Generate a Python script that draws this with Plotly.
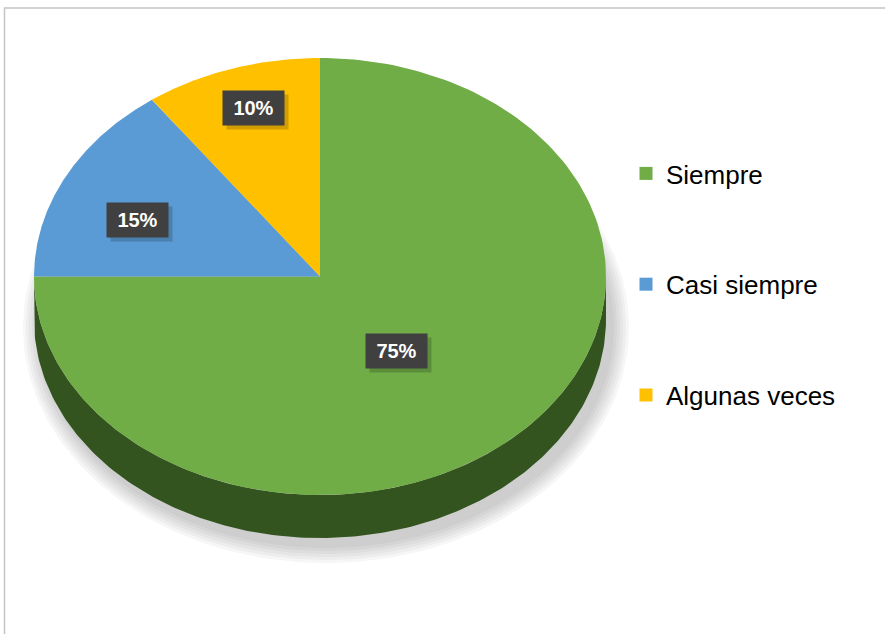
import numpy as np
import plotly.graph_objects as go

# ---- data ----
categories = ["Siempre", "Casi siempre", "Algunas veces"]
values = [75, 15, 10]
labels = ["75%", "15%", "10%"]
colors = ["#70AD47", "#5B9BD5", "#FFC000"]
side_colors = ["#33541F", "#2E5276", "#8A6800"]

W, H = 885, 634
cx, cy = 320.0, 276.5     # pie centre (pixels)
rx, ry = 286.0, 218.5     # ellipse radii (tilted pie)
depth = 43.0              # thickness of the 3D side


def pt(phi, dy=0.0):
    return cx + rx * np.sin(phi), cy - ry * np.cos(phi) + dy


fig = go.Figure()

# soft shadow under the pie
full = np.linspace(0, 2 * np.pi, 240)
for k in range(6):
    grow = 2 + k * 3
    sx = cx + 6 + (rx + grow) * np.sin(full)
    sy = cy + depth + 8 - (ry + grow) * np.cos(full)
    fig.add_trace(go.Scatter(x=sx, y=sy, fill="toself", mode="lines",
                             line=dict(width=0), fillcolor="rgba(90,90,90,0.055)",
                             hoverinfo="skip", showlegend=False))

total = float(sum(values))
bounds = np.cumsum([0] + values) / total * 2 * np.pi

# sides (only front half, phi in [pi/2, 3pi/2])
for i in range(len(values)):
    a0, a1 = max(bounds[i], np.pi / 2), min(bounds[i + 1], 3 * np.pi / 2)
    if a1 <= a0:
        continue
    ph = np.linspace(a0, a1, 200)
    tx, ty = pt(ph)
    bx, by = pt(ph[::-1], depth)
    fig.add_trace(go.Scatter(x=np.r_[tx, bx], y=np.r_[ty, by], fill="toself",
                             mode="lines", line=dict(width=0),
                             fillcolor=side_colors[i], hoverinfo="skip",
                             showlegend=False))

# top faces
for i in range(len(values)):
    ph = np.linspace(bounds[i], bounds[i + 1], 200)
    ex, ey = pt(ph)
    fig.add_trace(go.Scatter(x=np.r_[cx, ex, cx], y=np.r_[cy, ey, cy],
                             fill="toself", mode="lines", line=dict(width=0),
                             fillcolor=colors[i], name=categories[i],
                             hoverinfo="text", text=f"{categories[i]}: {labels[i]}",
                             showlegend=False))

# legend entries
for i in range(len(values)):
    fig.add_trace(go.Scatter(x=[None], y=[None], mode="markers",
                             marker=dict(symbol="square", size=13, color=colors[i]),
                             name=categories[i], legendgroup=categories[i]))

# data labels
label_pos = [(396, 351), (137, 220), (253, 108)]
for i, (lx, ly) in enumerate(label_pos):
    fig.add_annotation(x=lx + 4, y=ly + 4, text=" ", showarrow=False,
                       width=59, height=32, bgcolor="rgba(0,0,0,0.18)",
                       font=dict(size=20))
    fig.add_annotation(x=lx, y=ly, text=f"<b>{labels[i]}</b>", showarrow=False,
                       width=59, height=32, bgcolor="#404040",
                       font=dict(family="Liberation Sans, Arial", size=20, color="white"))

# chart frame
fig.add_shape(type="rect", xref="paper", yref="paper", x0=4.5 / W, x1=1.2,
              y0=-0.2, y1=1 - 8 / H, line=dict(color="#c4c4c4", width=1.5))

fig.update_layout(
    width=W, height=H,
    margin=dict(l=0, r=0, t=0, b=0),
    paper_bgcolor="white", plot_bgcolor="white",
    xaxis=dict(range=[0, W], visible=False, fixedrange=True),
    yaxis=dict(range=[H, 0], visible=False, fixedrange=True),
    showlegend=True,
    legend=dict(x=626 / W, y=1 - 150 / H, xanchor="left", yanchor="top",
                font=dict(family="Liberation Sans, Arial", size=26, color="black"),
                tracegroupgap=74, bgcolor="rgba(0,0,0,0)", itemclick=False),
)

fig.write_html("out.html", config={"displayModeBar": False},
               post_script="document.body.style.margin='0px';")
